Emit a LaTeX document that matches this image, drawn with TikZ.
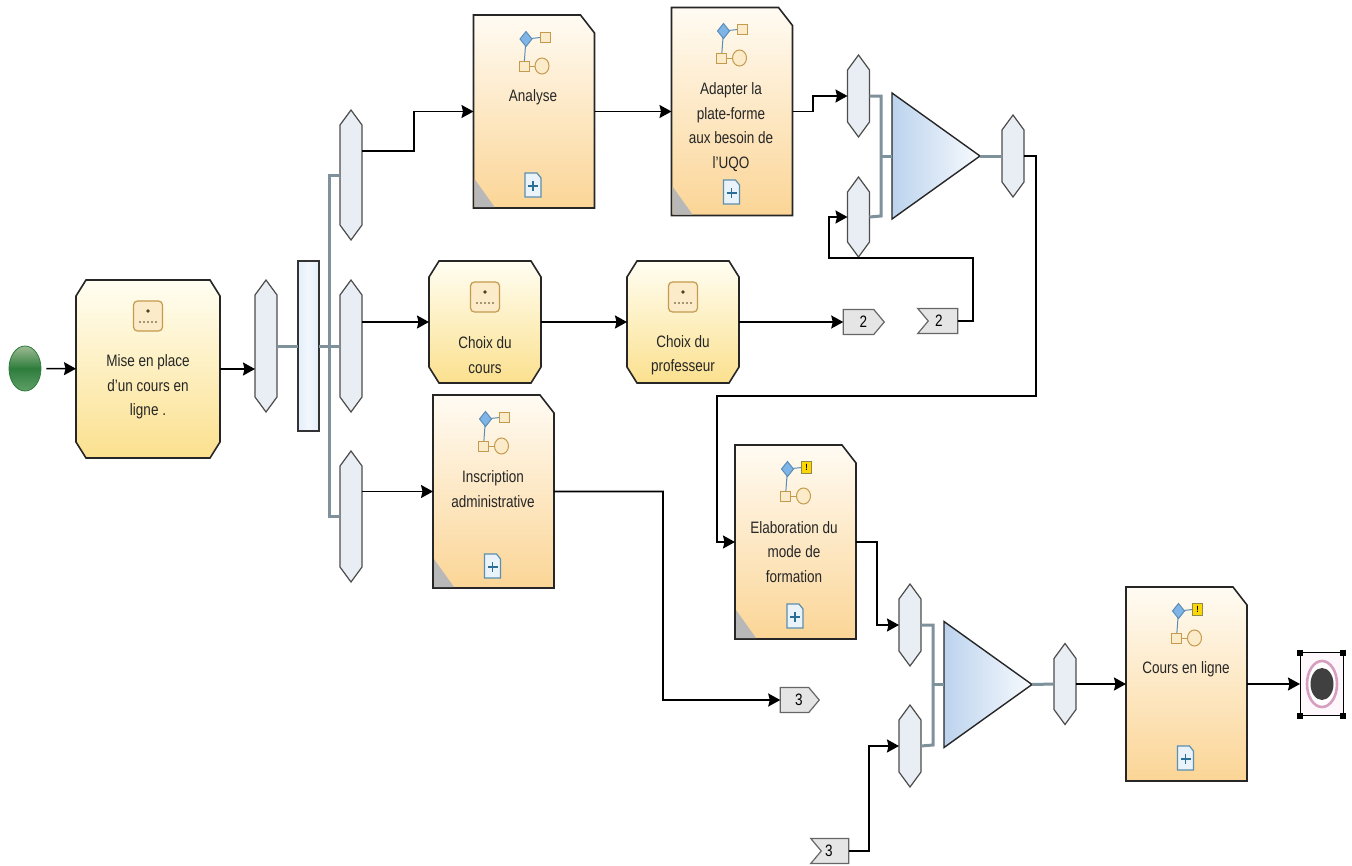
\documentclass[tikz,border=0pt]{standalone}
\usepackage{fontspec}
\setmainfont[FakeStretch=0.82]{Liberation Sans}
\usetikzlibrary{arrows.meta,positioning,shapes.geometric,shapes.symbols}
\definecolor{linkgray}{HTML}{7F929B}
\definecolor{iconline}{HTML}{C49A4E}
\definecolor{iconfill}{HTML}{FBEBC8}
\definecolor{subtop}{HTML}{FFFBF3}
\definecolor{subbot}{HTML}{FBD596}
\definecolor{acttop}{HTML}{FFFEF2}
\definecolor{actbot}{HTML}{FBE08E}
\definecolor{diamfill}{HTML}{7FB5E6}
\definecolor{diamline}{HTML}{5B8DB8}
\definecolor{hexfill}{HTML}{E9EEF4}
\definecolor{barside}{HTML}{E3EEFA}
\definecolor{barmid}{HTML}{F2F7FC}
\definecolor{mergeleft}{HTML}{BCD3EE}
\definecolor{mergeright}{HTML}{F7FAFD}
\definecolor{plusfill}{HTML}{EAF3FA}
\definecolor{plusline}{HTML}{5C8FB0}
\definecolor{pluscross}{HTML}{2B6E96}
\definecolor{starttop}{HTML}{9CBB93}
\definecolor{startmid}{HTML}{2E7D3C}
\definecolor{startbot}{HTML}{5F9F68}
\tikzset{
  plainnode/.style={rectangle,inner sep=0pt,outer sep=0pt},
  allcut/.style n args={3}{append after command={\pgfextra{\pgfinterruptpath
    \draw[#1] ([xshift=#2]\tikzlastnode.north west) -- ([xshift=-#2]\tikzlastnode.north east)
      -- ([yshift=-#3]\tikzlastnode.north east) -- ([yshift=#3]\tikzlastnode.south east)
      -- ([xshift=-#2]\tikzlastnode.south east) -- ([xshift=#2]\tikzlastnode.south west)
      -- ([yshift=#3]\tikzlastnode.south west) -- ([yshift=-#3]\tikzlastnode.north west) -- cycle;
    \endpgfinterruptpath}}},
  onecut/.style={append after command={\pgfextra{\pgfinterruptpath
    \draw[draw=black!85,line width=1.6pt,top color=subtop,bottom color=subbot]
      (\tikzlastnode.north west) -- ([xshift=-14pt]\tikzlastnode.north east)
      -- ([yshift=-18pt]\tikzlastnode.north east) -- (\tikzlastnode.south east)
      -- (\tikzlastnode.south west) -- cycle;
    \endpgfinterruptpath}}},
  actblk/.style={plainnode,minimum width=#1,minimum height=122pt,
    allcut={draw=black!85,line width=1.6pt,top color=acttop,bottom color=actbot}{10pt}{16pt}},
  subblk/.style={plainnode,minimum width=121pt,minimum height=#1,onecut},
  gatehex/.style={plainnode,minimum width=22pt,minimum height=#1,
    allcut={draw=black!70,line width=1.2pt,fill=hexfill}{11pt}{15pt}},
  merge/.style={isosceles triangle,isosceles triangle stretches,shape border rotate=0,draw=black!85,line width=1.4pt,
    inner sep=0pt,outer sep=0pt,minimum width=126pt,minimum height=88pt,left color=mergeleft,right color=mergeright,anchor=lower side},
  offout/.style={signal,signal to=east,signal from=nowhere,signal pointer angle=100,draw=black!60,line width=1.2pt,
    fill=black!10,inner sep=0pt,outer sep=0pt,minimum width=41pt,minimum height=25pt,font=\mylbl},
  offin/.style={signal,signal from=west,signal to=nowhere,signal pointer angle=100,draw=black!60,line width=1.2pt,
    fill=black!10,inner sep=0pt,outer sep=0pt,minimum width=40pt,minimum height=25pt,font=\mylbl},
  lbl/.style={font=\mylbl,align=center,text=black!85,inner sep=0pt},
  arr/.style={-{Stealth[length=12pt,width=13pt,inset=1.5pt]},line width=1.6pt,black},
  link/.style={line width=3pt,linkgray},
  handle/.style={rectangle,fill=black,inner sep=0pt,minimum size=6pt},
  pics/runicon/.style={code={
    \draw[iconline,line width=1.2pt,fill=iconfill,rounded corners=4pt] (-14.5,-15) rectangle (14.5,15);
    \fill[black!60!iconline] (0,-5) circle (1.8pt);
    \foreach \dx in {-8,-4,0,4,8} \fill[black!60!iconline] (\dx,6) circle (0.9pt);
  }},
  pics/flowicon/.style={code={
    \draw[diamline,line width=1pt] (-8,24) -- (11,22) (-8,24) -- (-10,51);
    \draw[iconline,line width=1pt] (-10,51) -- (8,51);
    \draw[diamline,line width=1pt,fill=diamfill] (-8,16.5) -- (-2,24) -- (-8,31.5) -- (-14,24) -- cycle;
    \draw[iconline,line width=1pt,fill=iconfill] (-15,46) rectangle (-5,56);
    \draw[iconline,line width=1pt,fill=iconfill] (8,51) ellipse (7pt and 8pt);
    \draw[iconline,line width=1pt,fill=iconfill] (6,17) rectangle (16,27);
  }},
  pics/warnicon/.style={code={
    \pic {flowicon};
    \draw[black!50!yellow,line width=0.8pt,fill=yellow!75!orange] (6,16) rectangle (16,28);
    \node[font=\fontsize{9}{9}\selectfont\bfseries,inner sep=0pt] at (11,22) {!};
  }},
  pics/plusicon/.style={code={
    \draw[plusline,line width=1.2pt,fill=plusfill] (-8,-12) -- (4,-12) -- (8,-7) -- (8,12) -- (-8,12) -- cycle;
    \draw[pluscross,line width=1.2pt] (-5,1) -- (5,1) (0,-4) -- (0,6);
  }}
}
\newcommand{\mylbl}{\fontsize{16.5}{24.5}\selectfont}
\begin{document}
\begin{tikzpicture}[x=1pt,y=-1pt]
  \useasboundingbox (0,0) rectangle (1352,865);

  % left part
  \node[ellipse,minimum width=32pt,minimum height=45pt,inner sep=0pt,draw=startmid,line width=0.8pt,
    top color=starttop,bottom color=startbot,middle color=startmid] (start) at (25,368.5) {};
  \node[actblk=144pt,minimum height=178pt] (mise) at (148,369) {};
  \node[gatehex=132pt] (gatea) at (266,346) {};
  \node[rectangle,draw=black!80,line width=1.4pt,left color=barside,right color=barside,middle color=barmid,
    minimum width=21pt,minimum height=170pt,inner sep=0pt,outer sep=0pt,right=21pt of gatea] (split) {};
  \node[gatehex=132pt] (gateb) at (351,346) {};
  \node[gatehex=130pt,above=40pt of gateb] (gatec) {};
  \node[gatehex=131pt,below=39pt of gateb] (gated) {};
  \coordinate (bus) at (329,346);

  % middle row
  \node[actblk=112pt] (choix) at (485,322) {};
  \node[actblk=112pt,right=86pt of choix] (prof) {};
  \node[offout] (outtwo) at (858.5,322) {\kern10pt 2};
  \node[offin] (intwo) at (943,321) {2\kern8pt};

  % sub-processes
  \node[subblk=193pt] (analyse) at (534,111.5) {};
  \node[subblk=208pt,right=77pt of analyse] (adapter) {};
  \node[subblk=193pt] (inscr) at (493.5,491.5) {};
  \node[subblk=194pt] (elabo) at (795.5,542) {};
  \node[subblk=194pt] (cours) at (1186.5,684) {};
  \foreach \n in {analyse,adapter,inscr,elabo}
    \fill[black!28] ([shift={(1,-1)}]\n.south west) -- ++(20,0) -- ++(-20,-28) -- cycle;

  % top merge
  \node[gatehex=82pt] (gatee) at (858.5,96) {};
  \node[gatehex=80pt] (gatef) at (858.5,217) {};
  \node[merge] (mergea) at (892,156) {};
  \node[gatehex=82pt] (gateg) at (1013,156) {};

  % bottom merge
  \node[gatehex=82pt] (gateh) at (910,625) {};
  \node[gatehex=82pt] (gatei) at (910,746) {};
  \node[merge] (mergeb) at (944,684.5) {};
  \node[gatehex=81pt] (gatej) at (1065,684) {};
  \node[offout,minimum width=39pt] (outthree) at (794.5,700) {\kern9pt 3};
  \node[offin,minimum width=38pt] (inthree) at (835,851) {3\kern12pt};

  % end event
  \node[rectangle,draw=black,line width=1pt,fill=magenta!3,minimum width=43pt,minimum height=63pt,inner sep=0pt,outer sep=0pt] (endsel) at (1321.5,684) {};
  \node[ellipse,draw=magenta!45!gray!60,line width=2.6pt,fill=white,minimum width=30pt,minimum height=46pt,inner sep=0pt] (endring) at (1322,684) {};
  \node[ellipse,fill=black!75,minimum width=23pt,minimum height=32pt,inner sep=0pt] (enddot) at (1322,684) {};
  \foreach \c in {north west,north east,south west,south east}
    \node[handle] at (endsel.\c) {};

  % labels
  \node[lbl] (lmise) at (148,387) {Mise en place\\d'un cours en\\ligne .};
  \node[lbl] (lanalyse) at (533,97) {Analyse};
  \node[lbl] (ladapter) at (731,127) {Adapter la\\plate-forme\\aux besoin de\\l'UQO};
  \node[lbl] (lchoix) at (485,355) {Choix du\\cours};
  \node[lbl] (lprof) at (683,355) {Choix du\\professeur};
  \node[lbl] (linscr) at (493,489) {Inscription\\administrative};
  \node[lbl] (lelabo) at (794,552) {Elaboration du\\mode de\\formation};
  \node[lbl] (lcours) at (1186,669) {Cours en ligne};

  % icons
  \pic at (148,316) {runicon};
  \pic at (485,297) {runicon};
  \pic at (683,297) {runicon};
  \pic at (534,15) {flowicon};
  \pic at (731.5,7) {flowicon};
  \pic at (493.5,395) {flowicon};
  \pic at (795.5,445) {warnicon};
  \pic at (1186.5,587) {warnicon};
  \pic at (533,185) {plusicon};
  \pic at (731.5,192) {plusicon};
  \pic at (492.5,566) {plusicon};
  \pic at (795,616) {plusicon};
  \pic at (1185.5,758) {plusicon};

  % grey links
  \draw[link] (gatea.east) -- (split.west);
  \draw[link] (split.east) -- (gateb.west);
  \draw[link] (gatec.west) -| (bus) |- (gated.west);
  \draw[link] (gatee.east) -| (881,216) -- (gatef.east);
  \draw[link] (881,156) -- (mergea.lower side);
  \draw[link] (mergea.apex) -- (gateg.west);
  \draw[link] (gateh.east) -| (933,745) -- (gatei.east);
  \draw[link] (933,684.5) -- (mergeb.lower side);
  \draw[link] (mergeb.apex) -- (gatej.west);

  % black arrows
  \draw[arr,shorten <=5pt] (start) -- (mise);
  \draw[arr] (mise) -- (mise -| gatea.west);
  \draw[arr] ([yshift=24pt]gatec.east) -- ++(52,0) |- (analyse);
  \draw[arr] (analyse) -- (adapter);
  \draw[arr] (adapter) -- ++(81,0) |- (gatee);
  \draw[arr] (choix -| gateb.east) -- (choix);
  \draw[arr] (choix) -- (prof);
  \draw[arr] (prof) -- (outtwo);
  \draw[arr] (intwo) -- ++(30,0) |- (829,258) |- (gatef);
  \draw[arr] (gated.east |- inscr) -- (inscr);
  \draw[arr] (inscr) -| (663,700) -- (outthree);
  \draw[arr] (gateg) -- ++(23,0) |- (717,396) |- (elabo);
  \draw[arr] (elabo) -- ++(81.5,0) |- (gateh);
  \draw[arr] (inthree) -| (869,746) -- (gatei);
  \draw[arr] (gatej) -- (cours);
  \draw[arr] (cours) -- (endsel);
\end{tikzpicture}
\end{document}
